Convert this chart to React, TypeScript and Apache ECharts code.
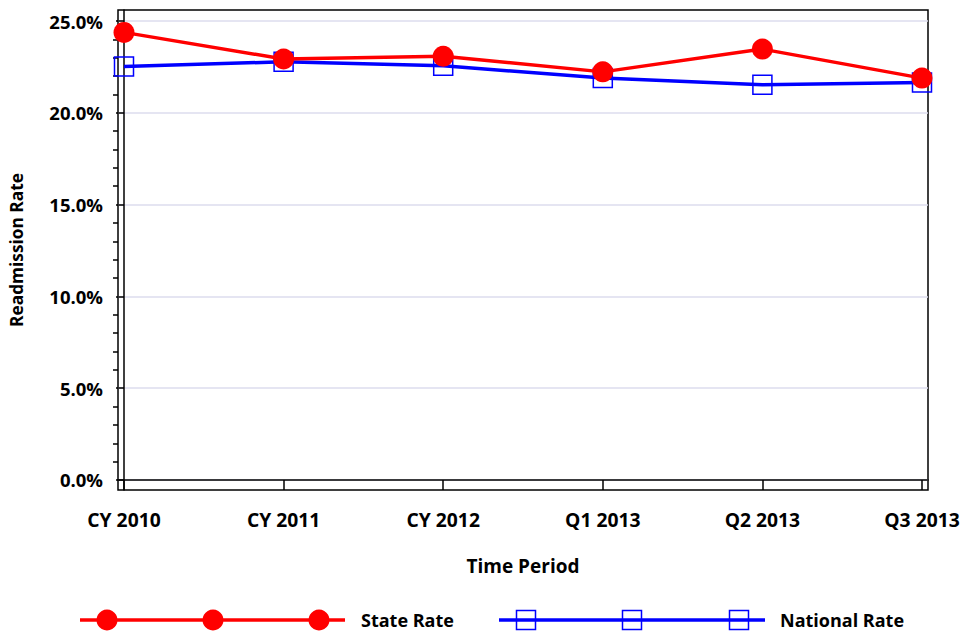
import React, { useEffect, useRef } from "react";
import * as echarts from "echarts";

const categories = ["CY 2010", "CY 2011", "CY 2012", "Q1 2013", "Q2 2013", "Q3 2013"];
const stateRate = [24.38, 22.93, 23.08, 22.23, 23.47, 21.89];
const nationalRate = [22.52, 22.78, 22.56, 21.89, 21.53, 21.65];
const yMajorTicks = [0, 5, 10, 15, 20, 25];
const yMinorTicks = [1, 2, 3, 4, 6, 7, 8, 9, 11, 12, 13, 14, 16, 17, 18, 19, 21, 22, 23, 24];
const xTicks = [0, 1, 2, 3, 4, 5];

const FONT = "Open Sans";

export default function App() {
  const ref = useRef<HTMLDivElement>(null);
  useEffect(() => {
    if (!ref.current) return;
    const chart = echarts.init(ref.current, undefined, { renderer: "svg" });
    const red = "#ff0000";
    const blue = "#0000ff";
    const option = {
      animation: false,
      backgroundColor: "#fff",
      textStyle: { fontFamily: FONT },
      grid: {
        left: 118,
        right: 33,
        top: 10,
        bottom: 144,
        show: true,
        borderColor: "#000",
        borderWidth: 1.5,
        containLabel: false,
        outerBoundsMode: "none",
      },
      xAxis: {
        type: "value",
        min: -0.0376,
        max: 5.0376,
        name: "Time Period",
        nameLocation: "middle",
        nameGap: 66,
        nameTextStyle: { fontFamily: FONT, fontWeight: "bold", fontSize: 19, color: "#000" },
        axisLine: { show: true, lineStyle: { color: "#000", width: 1.5 } },
        axisTick: { show: true, customValues: xTicks, length: 10, lineStyle: { color: "#000", width: 1.5 } },
        axisLabel: {
          customValues: xTicks,
          formatter: (v: number) => categories[Math.round(v)] ?? "",
          fontFamily: FONT,
          fontWeight: "bold",
          fontSize: 19.3,
          color: "#000",
          margin: 20,
        },
        splitLine: { show: false },
      },
      yAxis: [
        {
          type: "value",
          min: -0.545,
          max: 25.6,
          name: "Readmission Rate",
          nameLocation: "middle",
          nameGap: 93,
          nameRotate: 90,
          nameTextStyle: { fontFamily: FONT, fontWeight: "bold", fontSize: 17.3, color: "#000" },
          axisLine: { show: true, lineStyle: { color: "#000", width: 1.5 } },
          axisTick: { show: true, customValues: yMajorTicks, length: 8, lineStyle: { color: "#000", width: 1.5 } },
          axisLabel: {
            customValues: yMajorTicks,
            formatter: (v: number) => v.toFixed(1) + "%",
            fontFamily: FONT,
            fontWeight: "bold",
            fontSize: 18.5,
            color: "#000",
            margin: 15,
          },
          splitLine: { show: true, lineStyle: { color: "#dcdcee", width: 1.5 } },
        },
        {
          type: "value",
          min: -0.545,
          max: 25.6,
          position: "left",
          axisLine: { show: false },
          axisTick: { show: true, customValues: yMinorTicks, length: 5, lineStyle: { color: "#000", width: 1.5 } },
          axisLabel: { show: false },
          splitLine: { show: false },
        },
      ],
      series: [
        {
          name: "National Rate",
          type: "line",
          yAxisIndex: 0,
          data: nationalRate.map((v, i) => [i, v]),
          symbol: "rect",
          symbolSize: 19,
          lineStyle: { color: blue, width: 3.5 },
          itemStyle: { color: "rgba(0,0,0,0)", borderColor: blue, borderWidth: 1.5 },
          z: 2,
        },
        {
          name: "State Rate",
          type: "line",
          yAxisIndex: 0,
          data: stateRate.map((v, i) => [i, v]),
          symbol: "circle",
          symbolSize: 21,
          lineStyle: { color: red, width: 3.5 },
          itemStyle: { color: red },
          z: 3,
        },
      ],
      graphic: [
        { type: "line", shape: { x1: 80, y1: 620, x2: 345, y2: 620 }, style: { stroke: red, lineWidth: 3.5 } },
        { type: "circle", shape: { cx: 107, cy: 620, r: 10.5 }, style: { fill: red } },
        { type: "circle", shape: { cx: 213, cy: 620, r: 10.5 }, style: { fill: red } },
        { type: "circle", shape: { cx: 319, cy: 620, r: 10.5 }, style: { fill: red } },
        {
          type: "text",
          x: 361,
          y: 620,
          style: { text: "State Rate", fontFamily: FONT, fontWeight: "bold", fontSize: 18, fill: "#000", textVerticalAlign: "middle" },
        },
        { type: "line", shape: { x1: 499, y1: 620, x2: 765, y2: 620 }, style: { stroke: blue, lineWidth: 3.5 } },
        { type: "rect", shape: { x: 516.5, y: 610.5, width: 19, height: 19 }, style: { fill: "none", stroke: blue, lineWidth: 1.5 } },
        { type: "rect", shape: { x: 622.5, y: 610.5, width: 19, height: 19 }, style: { fill: "none", stroke: blue, lineWidth: 1.5 } },
        { type: "rect", shape: { x: 729.5, y: 610.5, width: 19, height: 19 }, style: { fill: "none", stroke: blue, lineWidth: 1.5 } },
        {
          type: "text",
          x: 780,
          y: 620,
          style: { text: "National Rate", fontFamily: FONT, fontWeight: "bold", fontSize: 18, fill: "#000", textVerticalAlign: "middle" },
        },
      ],
    };
    chart.setOption(option as any);
    return () => chart.dispose();
  }, []);
  return <div ref={ref} style={{ width: 961, height: 634, position: "absolute", left: 0, top: 0 }} />;
}
